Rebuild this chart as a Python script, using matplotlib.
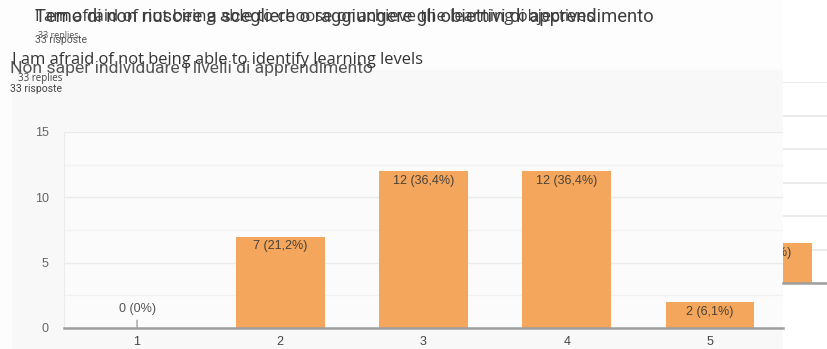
import matplotlib.pyplot as plt
from matplotlib.patches import Rectangle

W, H = 828, 349

# dati del sondaggio
scale = [1, 2, 3, 4, 5]
counts = [0, 7, 12, 12, 2]
labels = ['0 (0%)', '7 (21,2%)', '12 (36,4%)', '12 (36,4%)', '2 (6,1%)']
yticks = [0, 5, 10, 15]

# grafico accanto, se ne vede solo l'ultima barra
next_scale = [5]
next_counts = [3]
next_labels = ['3 (9,1%)']

orange = '#f3a65c'
grid_c = '#ebebeb'
base_c = '#9e9e9e'
chart_font = ['Liberation Sans', 'DejaVu Sans']


def px(x, y):
    return x / W, 1 - y / H


fig = plt.figure(figsize=(W / 100, H / 100), dpi=100)
fig.patch.set_facecolor('#fdfdfd')
fig.add_artist(Rectangle(px(12, 349), (783 - 12) / W, (349 - 70) / H,
                         transform=fig.transFigure, color='#f8f8f8', zorder=0))
fig.add_artist(Rectangle(px(783, 349), (W - 783) / W, 349 / H,
                         transform=fig.transFigure, color='white', zorder=0))

# titoli sovrapposti
fig.text(*px(35, 17), 'Temo di non riuscire a scegliere o raggiungere gli obiettivi di apprendimento',
         family='Roboto', fontsize=13.2, color='#3c3c3c', va='center')
fig.text(*px(35, 17), 'I am afraid of not being able to choose or achieve the learning objectives',
         family='Open Sans', fontsize=12, color='#3c3c3c', va='center')
fig.text(*px(38, 36), '33 replies', family='Open Sans', fontsize=6.5, color='#555555', va='center')
fig.text(*px(35, 40), '33 risposte', family='Roboto', fontsize=7.5, color='#555555', va='center')

fig.text(*px(10, 68), 'Non saper individuare i livelli di apprendimento',
         family='Roboto', fontsize=12.6, color='#555555', va='center')
fig.text(*px(12, 60), 'I am afraid of not being able to identify learning levels',
         family='Open Sans', fontsize=11.9, color='#333333', va='center')
fig.text(*px(18, 79), '33 replies', family='Open Sans', fontsize=7, color='#444444', va='center')
fig.text(*px(10, 89), '33 risposte', family='Roboto', fontsize=7.5, color='#444444', va='center')

# grafico principale
ax = fig.add_axes([64 / W, (H - 328) / H, (783 - 64) / W, (328 - 132) / H])
ax.set_facecolor('#fbfbfb')
ax.bar(scale, counts, width=0.62, color=orange, zorder=2)
ax.set_xlim(0.49, 5.51)
ax.set_ylim(0, 15)
ax.set_yticks(yticks)
ax.set_yticks([2.5, 7.5, 12.5], minor=True)
ax.set_xticks(scale)
ax.grid(axis='y', which='major', color=grid_c, lw=1, zorder=0)
ax.grid(axis='y', which='minor', color='#f1f1f1', lw=1, zorder=0)
ax.tick_params(axis='y', which='both', length=0, pad=11, labelsize=9, labelcolor='#666666')
ax.tick_params(axis='x', length=0, pad=6, labelsize=9, labelcolor='#444444')
for t in ax.get_xticklabels() + ax.get_yticklabels():
    t.set_family(chart_font)
for s in ['top', 'right']:
    ax.spines[s].set_visible(False)
ax.spines['left'].set_color('#ececec')
ax.spines['bottom'].set_color(base_c)
ax.spines['bottom'].set_linewidth(1.8)
ax.spines['bottom'].set_zorder(3)

for x, v, lab in zip(scale, counts, labels):
    if v == 0:
        ax.annotate(lab, xy=(x, v), xytext=(0, 14), textcoords='offset points',
                    ha='center', va='center', fontsize=9, color='#555555', family=chart_font,
                    arrowprops=dict(arrowstyle='-', color='#888888', lw=0.8, shrinkA=2, shrinkB=0))
    else:
        ax.annotate(lab, xy=(x, v), xytext=(0, -7), textcoords='offset points',
                    ha='center', va='center', fontsize=9, color='#4a4238', family=chart_font)

# grafico seguente, tagliato a sinistra
ax2 = fig.add_axes([783 / W, (H - 283) / H, (W - 783) / W, (283 - 82) / H])
ax2.set_facecolor('white')
ax2.bar(next_scale, next_counts, width=0.62, color=orange, zorder=2)
ax2.set_xlim(5.108, 5.108 + 45 / 143.5)
ax2.set_ylim(0, 15)
ax2.set_yticks([0, 2.5, 5, 7.5, 10, 12.5, 15])
ax2.set_xticks([])
ax2.grid(axis='y', color='#e8e8e8', lw=1.2, zorder=0)
ax2.tick_params(axis='y', length=0, labelleft=False)
for s in ['top', 'right', 'left']:
    ax2.spines[s].set_visible(False)
ax2.spines['bottom'].set_color(base_c)
ax2.spines['bottom'].set_linewidth(1.8)
ax2.spines['bottom'].set_zorder(3)
for x, v, lab in zip(next_scale, next_counts, next_labels):
    ax2.annotate(lab, xy=(x, v), xytext=(0, -7), textcoords='offset points',
                 ha='center', va='center', fontsize=9, color='#4a4238', family=chart_font,
                 annotation_clip=False, clip_on=True)

fig.savefig('out.png', dpi=100)
